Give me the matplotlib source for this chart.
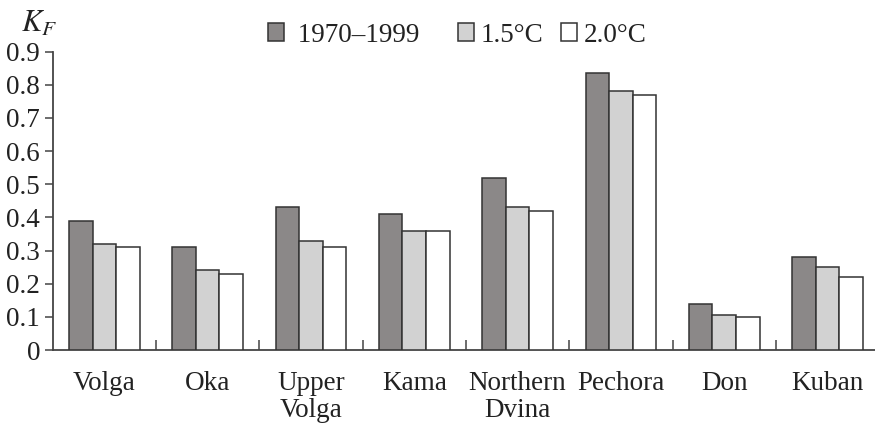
import matplotlib
matplotlib.use("Agg")
import matplotlib.pyplot as plt
from matplotlib.patches import Patch
import numpy as np

rivers = ["Volga", "Oka", "Upper\nVolga", "Kama", "Northern\nDvina", "Pechora", "Don", "Kuban"]
series_names = ["1970\u20131999", "1.5\u00b0C", "2.0\u00b0C"]
kf_1970_1999 = [0.39, 0.31, 0.43, 0.41, 0.52, 0.835, 0.14, 0.28]
kf_15 = [0.32, 0.24, 0.33, 0.36, 0.43, 0.78, 0.105, 0.25]
kf_20 = [0.31, 0.23, 0.31, 0.36, 0.42, 0.77, 0.10, 0.22]
y_ticks = [0, 0.1, 0.2, 0.3, 0.4, 0.5, 0.6, 0.7, 0.8, 0.9]
y_tick_labels = ["0", "0.1", "0.2", "0.3", "0.4", "0.5", "0.6", "0.7", "0.8", "0.9"]

plt.rcParams["font.family"] = ["Liberation Serif", "DejaVu Serif"]
plt.rcParams["mathtext.fontset"] = "stix"

fills = ["#8b8888", "#d2d2d2", "#ffffff"]
edge = "#333333"
txt = "#222222"

fig = plt.figure(figsize=(8.75, 4.25), dpi=100)
ax = fig.add_axes([52.7 / 875, 75 / 425, (875 - 52.7) / 875, (350 - 51.7) / 425])

x = np.arange(len(rivers))
w = 0.228
for i, (vals, fc) in enumerate(zip([kf_1970_1999, kf_15, kf_20], fills)):
    ax.bar(x + (i - 1) * w, vals, width=w, color=fc, edgecolor=edge, linewidth=1.1,
           label=series_names[i], zorder=3)

ax.set_xlim(-0.5, 7.46)
ax.set_ylim(0, 0.9)
ax.set_yticks(y_ticks)
ax.set_yticklabels(y_tick_labels, fontsize=19.5, color=txt)
ax.set_xticks(x)
ax.set_xticklabels(rivers, fontsize=19.5, color=txt, linespacing=1.1)
ax.tick_params(axis="x", which="major", length=0, pad=15)
ax.set_xticks(x[:-1] + 0.5, minor=True)
ax.tick_params(axis="x", which="minor", direction="in", length=7, width=1.1, color="#444444")
ax.tick_params(axis="y", direction="out", length=6, width=1.1, color="#444444", pad=3)

for side in ["top", "right"]:
    ax.spines[side].set_visible(False)
for side in ["left", "bottom"]:
    ax.spines[side].set_linewidth(1.3)
    ax.spines[side].set_color("#444444")

fig.text(21 / 875, 1 - 24 / 425, "$K_F$", fontsize=22, color=txt, va="center")

# legend entries placed individually along the top
entry_x = [268 / 875, 458 / 875, 561 / 875]
entry_labels = [" " + series_names[0], series_names[1], series_names[2]]
for fc, lab, ex in zip(fills, entry_labels, entry_x):
    leg = fig.legend([Patch(facecolor=fc, edgecolor=edge, linewidth=1.1)], [lab],
                     loc="center left", bbox_to_anchor=(ex, 1 - 35 / 425),
                     frameon=False, fontsize=19.5, handlelength=0.6, handleheight=0.6,
                     handletextpad=0.25, borderpad=0, borderaxespad=0)
    for t in leg.get_texts():
        t.set_color(txt)

fig.savefig("out.png", dpi=100)
